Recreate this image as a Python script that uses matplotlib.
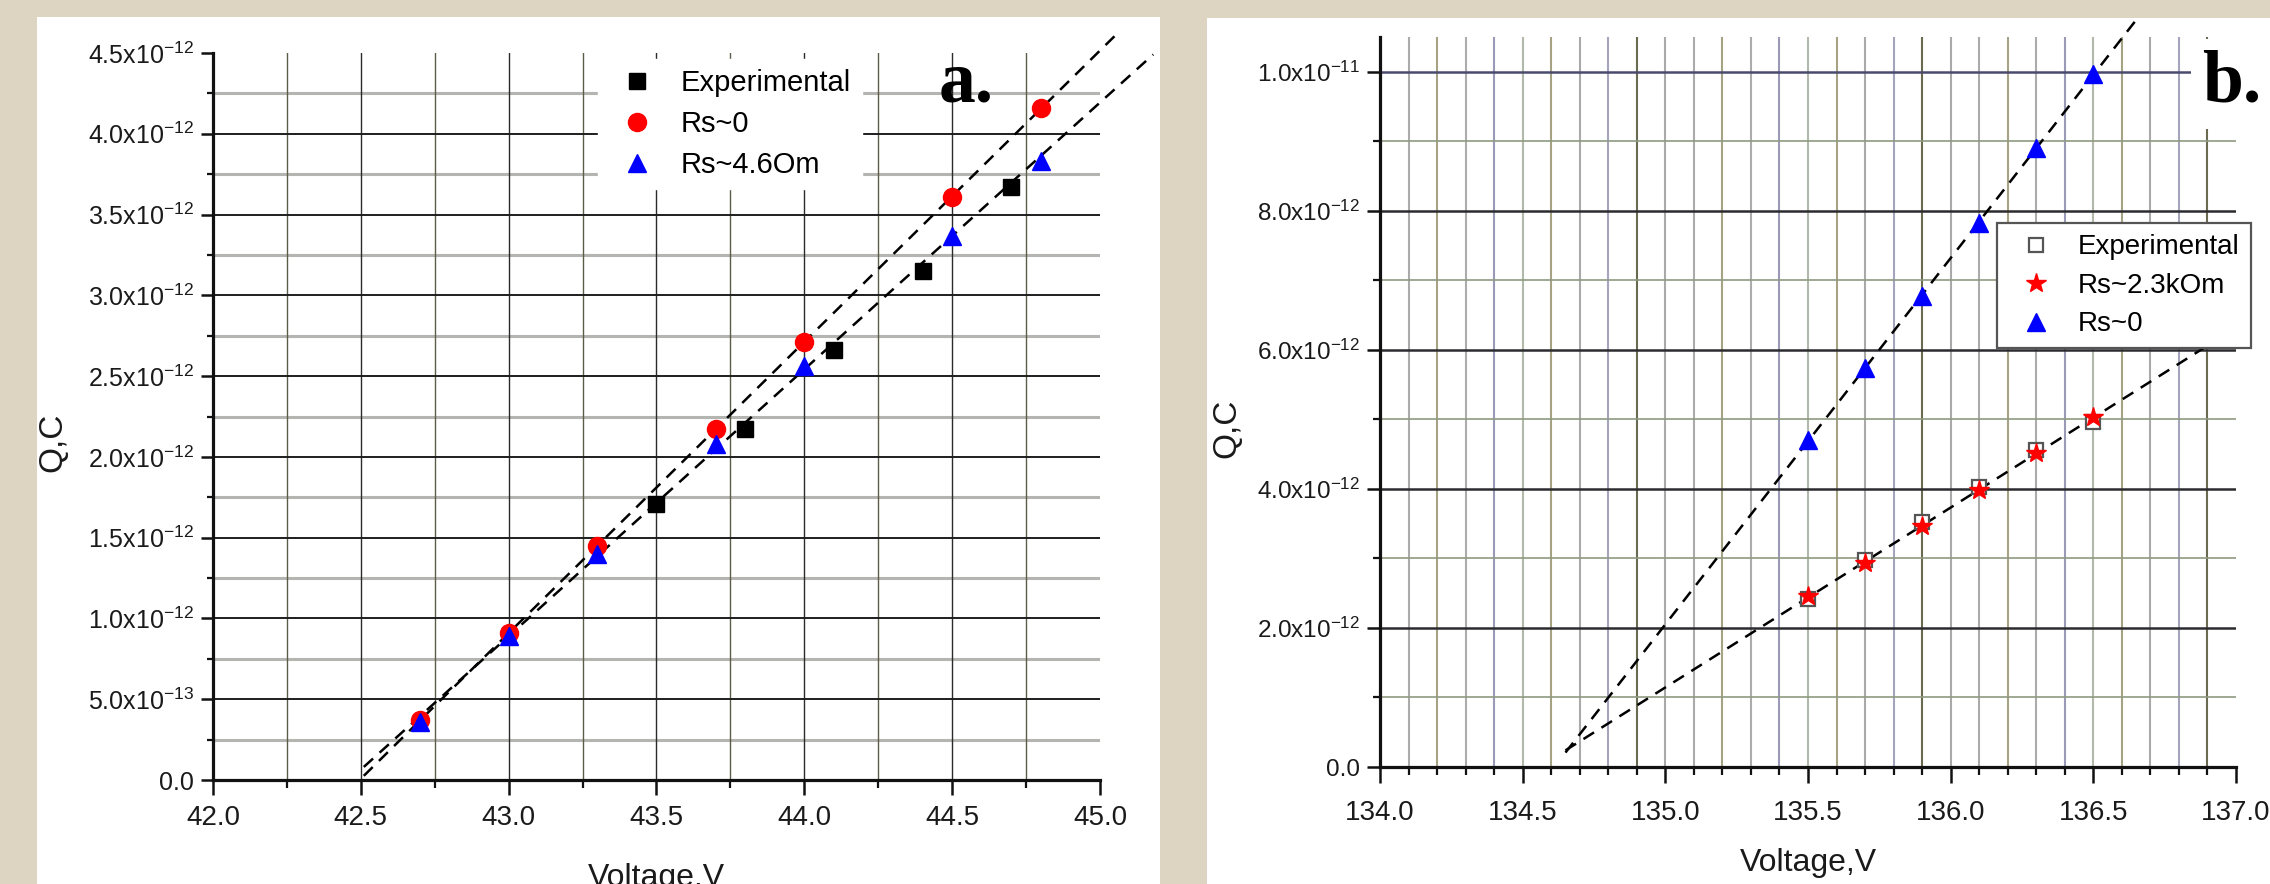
import numpy as np
import matplotlib
matplotlib.use("Agg")
import matplotlib.pyplot as plt
from matplotlib import font_manager
from matplotlib.ticker import MultipleLocator, FuncFormatter
from matplotlib.patches import Rectangle

plt.rcParams['font.family'] = ['Liberation Sans', 'DejaVu Sans']
plt.rcParams['mathtext.default'] = 'regular'

SCALE = 1e-12  # charges below are in units of 1e-12 C

# panel a
a_volt_exp = [43.5, 43.8, 44.1, 44.4, 44.7]
a_q_exp = [1.71, 2.17, 2.66, 3.15, 3.67]
a_volt_model = [42.7, 43.0, 43.3, 43.7, 44.0, 44.5, 44.8]
a_q_rs0 = [0.37, 0.91, 1.45, 2.17, 2.71, 3.61, 4.16]
a_q_rs46 = [0.36, 0.89, 1.40, 2.08, 2.56, 3.37, 3.83]
a_fit_rs0_v = [42.51, 45.06]
a_fit_rs46_v = [42.51, 45.18]
a_labels = ['Experimental', 'Rs~0', 'Rs~4.6Om']

# panel b
b_volt = [135.5, 135.7, 135.9, 136.1, 136.3, 136.5]
b_q_exp = [2.41, 2.98, 3.52, 4.03, 4.56, 4.96]
b_q_rs23k = [2.46, 2.94, 3.46, 3.98, 4.52, 5.03]
b_q_rs0 = [4.70, 5.74, 6.78, 7.83, 8.90, 9.97]
b_fit_rs0_v = [134.65, 136.65]
b_fit_rs23k_v = [134.65, 136.9]
b_labels = ['Experimental', 'Rs~2.3kOm', 'Rs~0']


def fit_line(v, q, v_ends):
    """Linear fit through the points, evaluated at the given voltages."""
    k, b = np.polyfit(v, q, 1)
    v_ends = np.array(v_ends)
    return v_ends, (k * v_ends + b) * SCALE


def sci_fmt(v, pos):
    if abs(v) < 1e-20:
        return '0.0'
    exp = int(np.floor(np.log10(abs(v)) + 1e-9))
    mant = v / 10.0 ** exp
    return f'{mant:.1f}x10$^{{{exp}}}$'


def q(values):
    return np.array(values) * SCALE


# x tick labels in the original are narrow; use the narrow face when present
installed = {f.name for f in font_manager.fontManager.ttflist}
if 'Liberation Sans Narrow' in installed:
    xtick_family, xtick_size_a, xtick_size_b = 'Liberation Sans Narrow', 22, 20.5
else:
    xtick_family, xtick_size_a, xtick_size_b = 'Liberation Sans', 20, 20

W, H = 2270, 884
fig = plt.figure(figsize=(W / 100, H / 100), dpi=100)
fig.patch.set_facecolor('#ddd5c2')

# white panels on the beige page
for x0, w, h in [(37, 1123, 867), (1207, 1063, 866)]:
    fig.add_artist(Rectangle((x0 / W, 0), w / W, h / H, transform=fig.transFigure,
                             facecolor='white', edgecolor='none', zorder=-10))

ax_a = fig.add_axes([213 / W, 1 - 780 / H, 887 / W, 727 / H])
ax_b = fig.add_axes([1380 / W, 1 - 767 / H, 856 / W, 730 / H])

for ax in (ax_a, ax_b):
    ax.set_facecolor('none')
    ax.spines['top'].set_visible(False)
    ax.spines['right'].set_visible(False)
    for s in ('left', 'bottom'):
        ax.spines[s].set_linewidth(2.3)
        ax.spines[s].set_color('#111111')
    ax.yaxis.set_major_formatter(FuncFormatter(sci_fmt))
    ax.xaxis.set_major_formatter(FuncFormatter(lambda v, p: f'{v:.1f}'))
    ax.tick_params(which='both', direction='out', colors='#111111', labelcolor='#1a1a1a')

dash = (0, (5, 3.5))

# ---------------- panel a ----------------
ax_a.set_xlim(42.0, 45.0)
ax_a.set_ylim(0, 4.5e-12)
ax_a.xaxis.set_major_locator(MultipleLocator(0.5))
ax_a.xaxis.set_minor_locator(MultipleLocator(0.25))
ax_a.yaxis.set_major_locator(MultipleLocator(0.5e-12))
ax_a.yaxis.set_minor_locator(MultipleLocator(0.25e-12))
ax_a.tick_params(axis='x', which='major', length=10.8, width=1.8, labelsize=xtick_size_a, pad=7)
ax_a.tick_params(axis='x', which='minor', length=6, width=1.6)
ax_a.tick_params(axis='y', which='major', length=8.6, width=1.8, labelsize=18, pad=5)
ax_a.tick_params(axis='y', which='minor', length=4.5, width=1.6)

for i, xv in enumerate(np.arange(42.25, 44.8, 0.25)):
    major = abs(xv * 2 - round(xv * 2)) < 1e-6
    ax_a.axvline(xv, color='#2a2a2a' if major else '#5c5c48', lw=1.0, zorder=0.5)
for yv in np.arange(0.25, 4.3, 0.25):
    major = abs(yv * 2 - round(yv * 2)) < 1e-6
    if major:
        ax_a.axhline(yv * SCALE, color='#1e1e1e', lw=1.4, zorder=0.5)
    else:
        ax_a.axhline(yv * SCALE, color='#b4b4b0', lw=2.2, zorder=0.4)

fx, fy = fit_line(a_volt_model, a_q_rs0, a_fit_rs0_v)
ax_a.plot(fx, fy, color='black', lw=1.8, ls=dash, clip_on=False, zorder=3)
fx, fy = fit_line(a_volt_model, a_q_rs46, a_fit_rs46_v)
ax_a.plot(fx, fy, color='black', lw=1.8, ls=dash, clip_on=False, zorder=3)

h1, = ax_a.plot(a_volt_exp, q(a_q_exp), ls='none', marker='s', ms=11, color='black',
                label=a_labels[0], zorder=4)
h2, = ax_a.plot(a_volt_model, q(a_q_rs0), ls='none', marker='o', ms=13, color='red',
                mec='red', label=a_labels[1], zorder=4)
h3, = ax_a.plot(a_volt_model, q(a_q_rs46), ls='none', marker='^', ms=13, color='blue',
                mec='blue', label=a_labels[2], zorder=4)

leg_a = ax_a.legend(handles=[h1, h2, h3], loc='upper left', bbox_to_anchor=(0.434, 0.992),
                    borderaxespad=0, fontsize=21, frameon=True, fancybox=False,
                    framealpha=1, edgecolor='white', facecolor='white',
                    handletextpad=0.5, labelspacing=0.45, borderpad=0.35)

ax_a.set_xlabel('Voltage,V', fontsize=23, color='#1a1a1a')
ax_a.xaxis.set_label_coords(0.5, -0.114)
ax_a.set_ylabel('Q,C', fontsize=24, color='#1a1a1a', va='center')
ax_a.yaxis.set_label_coords(-0.180, 0.465)

fig.text(939 / W, 1 - 101 / H, 'a.', fontsize=53, fontweight='bold',
         family='Liberation Serif', ha='left', va='baseline', color='black')

# ---------------- panel b ----------------
ax_b.set_xlim(134.0, 137.0)
ax_b.set_ylim(0, 1.05e-11)
ax_b.xaxis.set_major_locator(MultipleLocator(0.5))
ax_b.xaxis.set_minor_locator(MultipleLocator(0.1))
ax_b.yaxis.set_major_locator(MultipleLocator(2e-12))
ax_b.yaxis.set_minor_locator(MultipleLocator(1e-12))
ax_b.tick_params(axis='x', which='major', length=11.5, width=1.8, labelsize=xtick_size_b, pad=12)
ax_b.tick_params(axis='x', which='minor', length=6, width=1.6)
ax_b.tick_params(axis='y', which='major', length=9.4, width=1.8, labelsize=17.5, pad=5)
ax_b.tick_params(axis='y', which='minor', length=5, width=1.6)

for ax in (ax_a, ax_b):
    for lab in ax.get_xticklabels():
        lab.set_family(xtick_family)

vcols = ['#a9a9a9', '#ababab', '#a6a384', '#acacac', '#9a9ab8',
         '#b0b9aa', '#a6a384', '#a9a9a9', '#a4a4bc', '#6a6a50']
for i, xv in enumerate(np.arange(134.1, 136.95, 0.1)):
    ax_b.axvline(xv, color=vcols[(i + 1) % len(vcols)], lw=1.5, zorder=0.5)
for k, yv in enumerate(np.arange(1.0, 10.5, 1.0)):
    if k % 2 == 1:
        col, lw = ('#4a4a6e', 1.8) if yv > 9.5 else ('#2c2c30', 1.8)
    else:
        col, lw = '#8f9a80', 1.2
    ax_b.axhline(yv * SCALE, color=col, lw=lw, zorder=0.6)

fx, fy = fit_line(b_volt, b_q_rs0, b_fit_rs0_v)
ax_b.plot(fx, fy, color='black', lw=1.8, ls=dash, clip_on=False, zorder=3)
fx, fy = fit_line(b_volt, b_q_rs23k, b_fit_rs23k_v)
ax_b.plot(fx, fy, color='black', lw=1.8, ls=dash, clip_on=False, zorder=3)

g1, = ax_b.plot(b_volt, q(b_q_exp), ls='none', marker='s', ms=10, mfc='white',
                mec='#555555', mew=1.6, label=b_labels[0], zorder=4)
g2, = ax_b.plot(b_volt, q(b_q_rs23k), ls='none', marker='*', ms=15, color='red',
                mec='red', label=b_labels[1], zorder=5)
g3, = ax_b.plot(b_volt, q(b_q_rs0), ls='none', marker='^', ms=13, color='blue',
                mec='blue', label=b_labels[2], zorder=4)

leg_b = ax_b.legend(handles=[g1, g2, g3], loc='upper left', bbox_to_anchor=(0.721, 0.745),
                    borderaxespad=0, fontsize=20, frameon=True, fancybox=False,
                    framealpha=1, edgecolor='#555555', facecolor='white',
                    handletextpad=0.5, labelspacing=0.45, borderpad=0.4)
leg_b.get_frame().set_linewidth(1.6)
leg_b.set_zorder(10)

ax_b.set_xlabel('Voltage,V', fontsize=23, color='#1a1a1a')
ax_b.xaxis.set_label_coords(0.5, -0.111)
ax_b.set_ylabel('Q,C', fontsize=24, color='#1a1a1a', va='center')
ax_b.yaxis.set_label_coords(-0.179, 0.464)

fig.text(2202 / W, 1 - 102 / H, 'b.', fontsize=53, fontweight='bold',
         family='Liberation Serif', ha='left', va='baseline', color='black',
         bbox=dict(facecolor='white', edgecolor='none', pad=8))

fig.savefig('out.png', dpi=100, facecolor=fig.get_facecolor())
